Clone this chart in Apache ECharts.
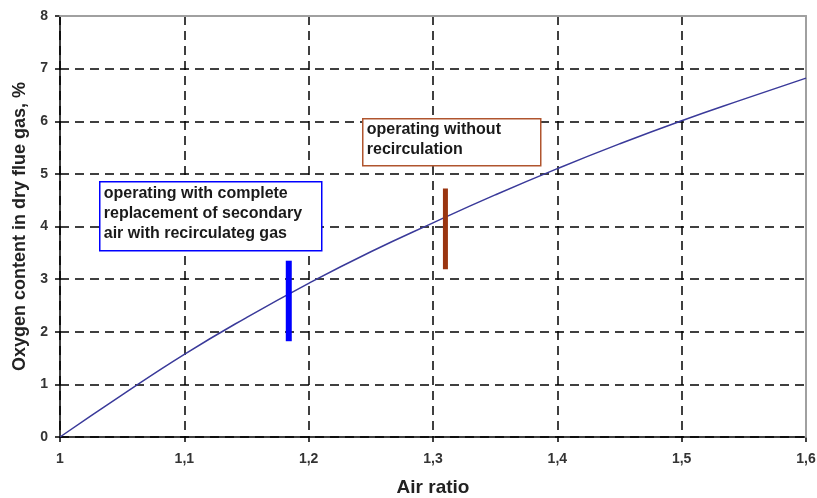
<!DOCTYPE html>
<html>
<head>
<meta charset="utf-8">
<title>Oxygen content vs air ratio</title>
<script src="https://cdn.jsdelivr.net/npm/echarts@6/dist/echarts.min.js"></script>
<style>
  html, body { margin: 0; padding: 0; background: #fff; }
  #chart { width: 817px; height: 498px; }
</style>
</head>
<body>
<div id="chart"></div>
<script>
// values
const airRatio = [1.0, 1.05, 1.1, 1.15, 1.2, 1.25, 1.3, 1.35, 1.4, 1.45, 1.5, 1.55, 1.6];
const oxygen = [0, 0.8, 1.57, 2.27, 2.92, 3.52, 4.07, 4.6, 5.1, 5.57, 6.01, 6.42, 6.82];

// operating ranges (air ratio, O2 from, O2 to)
const withRecircBar = [1.184, 1.82, 3.35];
const withoutRecircBar = [1.31, 3.19, 4.72];

const withRecircText = 'operating with complete\nreplacement of secondary\nair with recirculateg gas';
const withoutRecircText = 'operating without\nrecirculation';

const FONT = '"Liberation Sans", Arial, sans-serif';

const chart = echarts.init(document.getElementById('chart'));

function fmtX(v) {
  if (Math.abs(v - 1) < 1e-9) return '1';
  return v.toFixed(1).replace('.', ',');
}

function barData(b) {
  return [[b[0], b[1]], [b[0], b[2]]];
}

function noteBox(x, y, w, h, color, text, tx, ty) {
  return {
    type: 'group',
    left: x,
    top: y,
    z: 20,
    children: [
      {
        type: 'rect',
        z: 20,
        shape: { x: 0, y: 0, width: w, height: h },
        style: { fill: '#fff', stroke: color, lineWidth: 1.5 }
      },
      {
        type: 'text',
        z: 21,
        x: tx,
        y: ty,
        style: {
          text: text,
          fill: '#1a1a1a',
          font: 'bold 16px ' + FONT,
          lineHeight: 20
        }
      }
    ]
  };
}

const option = {
  animation: false,
  grid: { left: 60, right: 11, top: 16, bottom: 61, outerBoundsMode: 'none', containLabel: false },
  xAxis: [
    {
      type: 'value',
      min: 1,
      max: 1.6,
      interval: 0.1,
      name: 'Air ratio',
      nameLocation: 'middle',
      nameGap: 41,
      nameTextStyle: { fontFamily: FONT, fontWeight: 'bold', fontSize: 19, color: '#222' },
      axisLine: { onZero: false, lineStyle: { color: '#000', width: 1.5 } },
      axisTick: { show: true, length: 5, lineStyle: { color: '#000', width: 1.5 } },
      axisLabel: { formatter: fmtX, fontFamily: FONT, fontWeight: 'bold', fontSize: 14, color: '#333', margin: 15 },
      splitLine: { show: true, lineStyle: { color: '#000', width: 1.5, type: [9, 6] } }
    },
    {
      type: 'value',
      position: 'top',
      min: 1,
      max: 1.6,
      z: 5,
      axisLine: { onZero: false, lineStyle: { color: '#a0a0a0', width: 2 } },
      axisTick: { show: false },
      axisLabel: { show: false },
      splitLine: { show: false }
    }
  ],
  yAxis: [
    {
      type: 'value',
      min: 0,
      max: 8,
      interval: 1,
      name: 'Oxygen content in dry flue gas, %',
      nameLocation: 'middle',
      nameGap: 29,
      nameTextStyle: { fontFamily: FONT, fontWeight: 'bold', fontSize: 18, color: '#222' },
      axisLine: { show: true, onZero: false, lineStyle: { color: '#000', width: 1.5 } },
      axisTick: { show: true, length: 5, lineStyle: { color: '#000', width: 1.5 } },
      axisLabel: { fontFamily: FONT, fontWeight: 'bold', fontSize: 14, color: '#333', margin: 12 },
      splitLine: { show: true, lineStyle: { color: '#000', width: 1.5, type: [9, 6] } }
    },
    {
      type: 'value',
      position: 'right',
      min: 0,
      max: 8,
      z: 5,
      axisLine: { show: true, onZero: false, lineStyle: { color: '#a0a0a0', width: 2 } },
      axisTick: { show: false },
      axisLabel: { show: false },
      splitLine: { show: false }
    }
  ],
  series: [
    {
      type: 'line',
      xAxisIndex: 0,
      yAxisIndex: 0,
      data: airRatio.map((x, i) => [x, oxygen[i]]),
      smooth: true,
      showSymbol: false,
      z: 6,
      lineStyle: { color: '#3a3a9a', width: 1.5 }
    },
    {
      type: 'line',
      xAxisIndex: 0,
      yAxisIndex: 0,
      data: barData(withRecircBar),
      showSymbol: false,
      z: 7,
      lineStyle: { color: '#0000ff', width: 6, cap: 'butt' }
    },
    {
      type: 'line',
      xAxisIndex: 0,
      yAxisIndex: 0,
      data: barData(withoutRecircBar),
      showSymbol: false,
      z: 7,
      lineStyle: { color: '#9a3510', width: 5, cap: 'butt' }
    }
  ],
  graphic: [
    noteBox(99, 181, 222, 69, '#0000ff', withRecircText, 4, 2),
    noteBox(362, 118, 178, 47, '#b0552e', withoutRecircText, 4, 1)
  ]
};

chart.setOption(option);
</script>
</body>
</html>
